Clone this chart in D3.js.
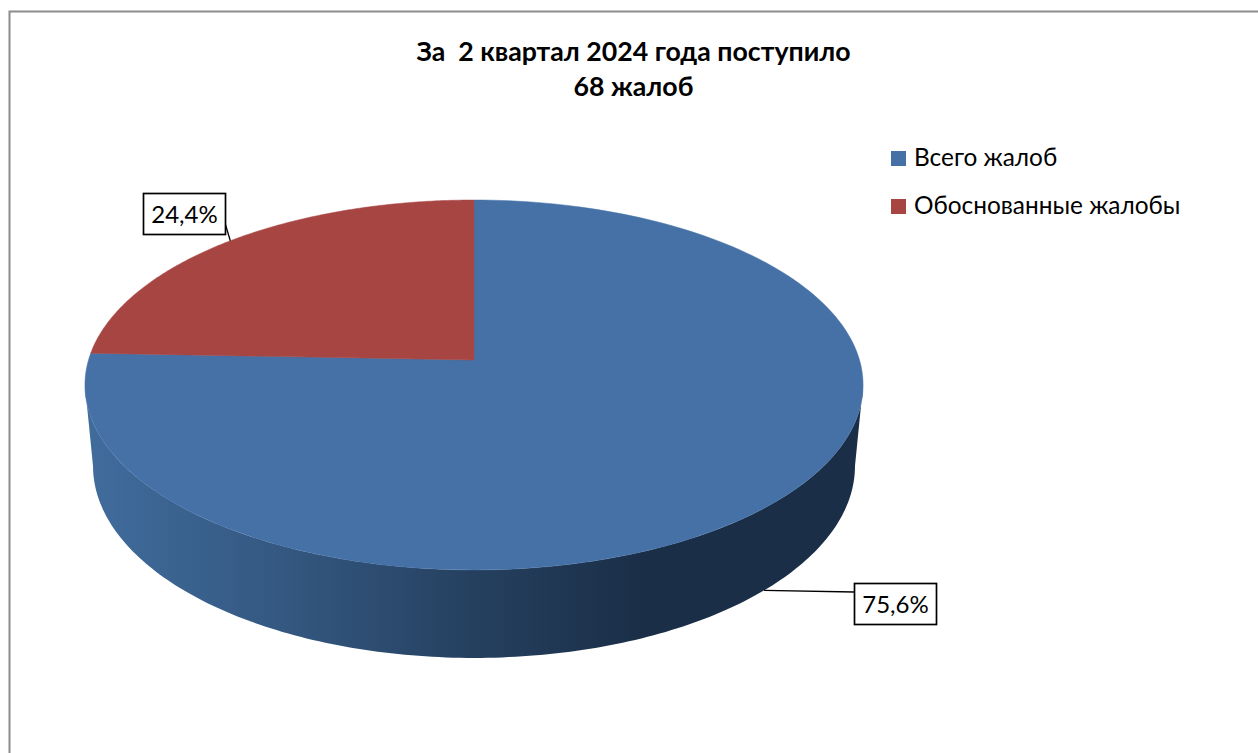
<!DOCTYPE html>
<html>
<head>
<meta charset="utf-8">
<script src="https://cdn.jsdelivr.net/npm/d3@7"></script>
<style>
  html, body { margin: 0; padding: 0; background: #fff; }
  text { font-family: Lato, "Open Sans", sans-serif; fill: #000; }
</style>
</head>
<body>
<svg id="chart" width="1258" height="753"></svg>
<script>
var categories = ['Всего жалоб', 'Обоснованные жалобы'];
var values = [75.6, 24.4];
var valueLabels = ['75,6%', '24,4%'];
var titleLines = ['За  2 квартал 2024 года поступило', '68 жалоб'];
var colors = ['#4571a7', '#a74543'];

var width = 1258, height = 753;
var svg = d3.select('#chart');

// chart frame
svg.append('path')
  .attr('d', 'M9.5,' + height + 'V11.5H' + width)
  .attr('fill', 'none')
  .attr('stroke', '#8c8c8c')
  .attr('stroke-width', 2);

// title
svg.append('text')
  .attr('text-anchor', 'middle')
  .attr('font-size', 26.7)
  .attr('font-weight', 700)
  .style('white-space', 'pre')
  .selectAll('tspan')
  .data(titleLines)
  .enter().append('tspan')
  .attr('x', 633.5)
  .attr('y', function(d, i) { return 61 + i * 35; })
  .text(function(d) { return d; });

// perspective discs: angle 0 is 12 o'clock, clockwise
var k = -0.135, cx = 474;
var topDisc = { cy: 360, rx: 385.5, ry: 181.6 };
var bottomDisc = { cy: 440, rx: 377.5, ry: 188.5 };

function project(a, disc) {
  var u = Math.sin(a), v = -Math.cos(a);
  var w = 1 + k * v;
  return [cx + disc.rx * u / w, disc.cy + disc.ry * v / w];
}

var pie = d3.pie().sort(null).value(function(d) { return d; });
var arcs = pie(values);

function edge(a0, a1, disc) {
  return d3.range(0, 181).map(function(i) {
    return project(a0 + (a1 - a0) * i / 180, disc);
  });
}

var defs = svg.append('defs');
var sideGrad = defs.append('linearGradient')
  .attr('id', 'side')
  .attr('gradientUnits', 'userSpaceOnUse')
  .attr('x1', cx - topDisc.rx).attr('x2', cx + topDisc.rx)
  .attr('y1', 0).attr('y2', 0);
[[0, '#406c9c'], [0.25, '#345881'], [0.5, '#25405f'], [0.72, '#1a2e47'], [1, '#1a2e47']]
  .forEach(function(s) {
    sideGrad.append('stop').attr('offset', s[0]).attr('stop-color', s[1]);
  });

// side wall: front half of the top edge joined to the front half of the bottom edge
var line = d3.line();
var silR = Math.PI / 2 - Math.asin(k);
var silL = 2 * Math.PI - silR;
var wall = edge(silR, silL, topDisc).concat(edge(silR, silL, bottomDisc).reverse());
svg.append('path')
  .attr('d', line(wall) + 'Z')
  .attr('fill', 'url(#side)');

// top slices
svg.selectAll('.slice')
  .data(arcs)
  .enter().append('path')
  .attr('class', 'slice')
  .attr('d', function(d) {
    return line([[cx, topDisc.cy]].concat(edge(d.startAngle, d.endAngle, topDisc))) + 'Z';
  })
  .attr('fill', function(d, i) { return colors[i]; })
  .attr('stroke', function(d, i) { return colors[i]; })
  .attr('stroke-width', 0.5);

// data labels
var labelW = 82, labelH = 41;
var labelBoxes = [[854, 583], [143, 193]];
var leaderEnds = [[854, 592], [225, 223]];

arcs.forEach(function(d, i) {
  var mid = (d.startAngle + d.endAngle) / 2;
  var from = project(mid, i === 0 ? bottomDisc : topDisc);
  svg.append('line')
    .attr('x1', from[0]).attr('y1', from[1])
    .attr('x2', leaderEnds[i][0]).attr('y2', leaderEnds[i][1])
    .attr('stroke', '#000').attr('stroke-width', 1.3);
  svg.append('rect')
    .attr('x', labelBoxes[i][0] + 0.5).attr('y', labelBoxes[i][1] + 0.5)
    .attr('width', labelW).attr('height', labelH)
    .attr('fill', '#fff').attr('stroke', '#000').attr('stroke-width', 1.7);
  svg.append('text')
    .attr('x', labelBoxes[i][0] + labelW / 2 + 0.5)
    .attr('y', labelBoxes[i][1] + 30)
    .attr('text-anchor', 'middle')
    .attr('font-size', 24)
    .text(valueLabels[i]);
});

// legend
var legend = svg.selectAll('.legend')
  .data(categories)
  .enter().append('g')
  .attr('class', 'legend')
  .attr('transform', function(d, i) { return 'translate(891,' + (151 + i * 48) + ')'; });
legend.append('rect')
  .attr('width', 15).attr('height', 15)
  .attr('fill', function(d, i) { return colors[i]; });
legend.append('text')
  .attr('x', 23).attr('y', 15)
  .attr('font-size', 24.4)
  .text(function(d) { return d; });
</script>
</body>
</html>
